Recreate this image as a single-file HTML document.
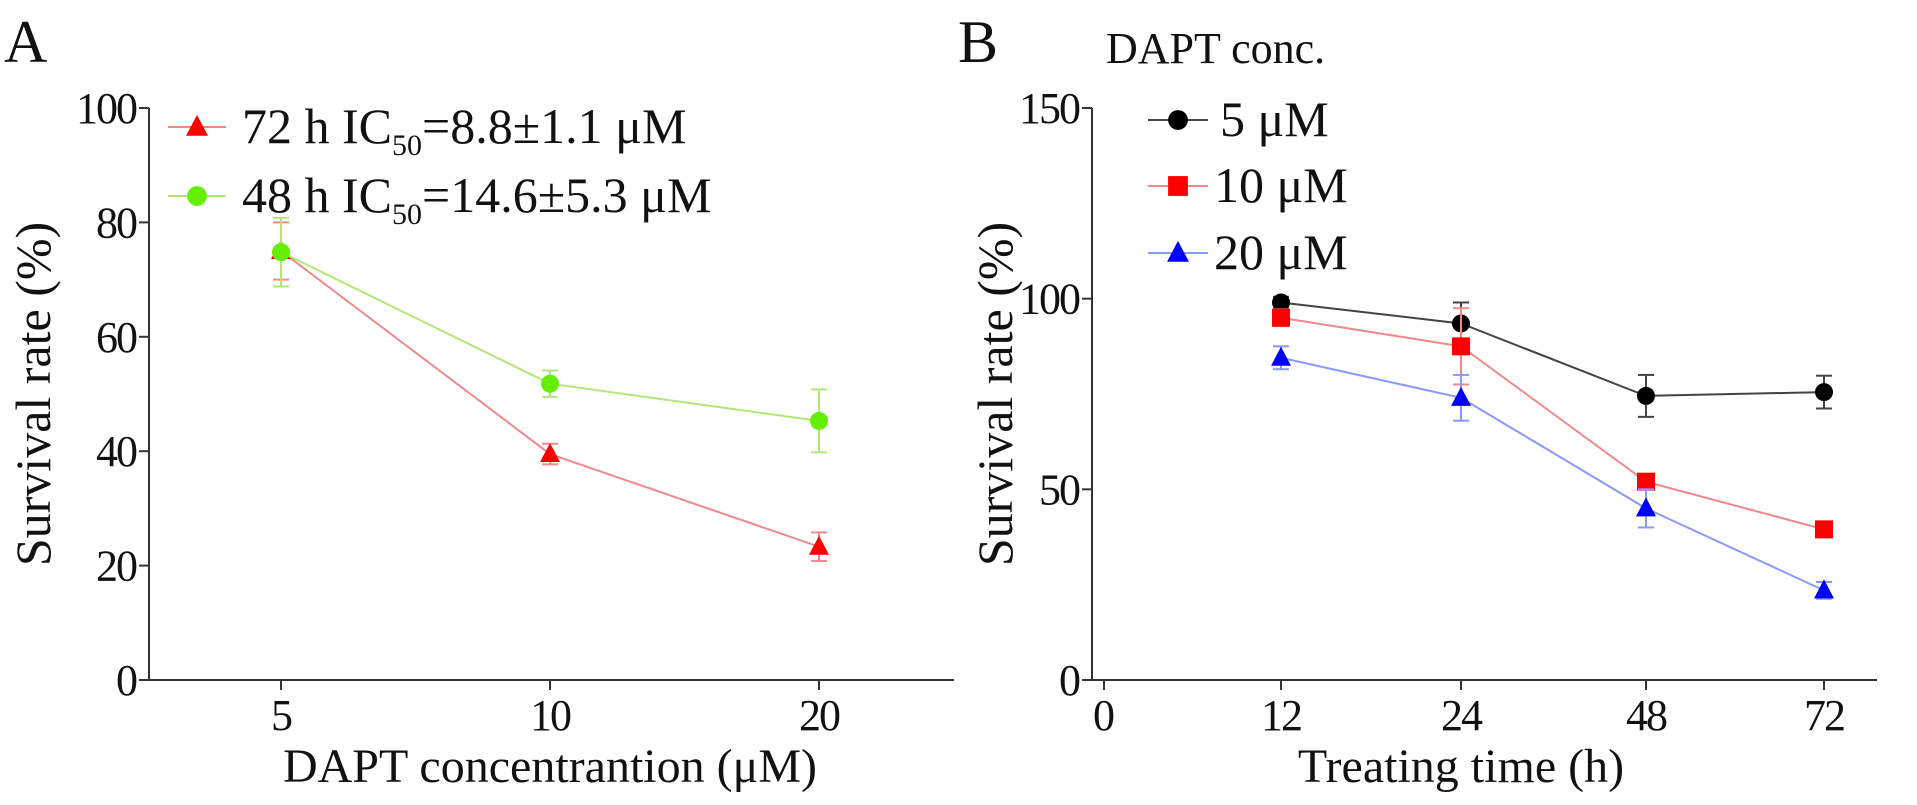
<!DOCTYPE html>
<html><head><meta charset="utf-8"><style>
html,body{margin:0;padding:0;background:#fff;}
svg{display:block;font-family:"Liberation Serif",serif;}
</style></head><body>
<svg id="c" width="1917" height="805" viewBox="0 0 1917 805" xmlns="http://www.w3.org/2000/svg"></svg>
<script>
// Panel A data
const catsA = ['5','10','20'];
const val72 = [75, 39.5, 23.3];
const err72 = [5, 1.8, 2.5];
const val48 = [74.8, 51.8, 45.3];
const err48 = [6, 2.3, 5.5];
const ticksA = [0,20,40,60,80,100];
// Panel B data
const catsB = ['12','24','48','72'];
const val5 = [99, 93.5, 74.5, 75.5];
const err5 = [1.5, 5.5, 5.5, 4.3];
const val10 = [95, 87.5, 52, 39.5];
const err10 = [2.2, 10, 1.2, 1.2];
const val20 = [84.5, 74, 45, 23.5];
const err20 = [3, 6, 5, 2.2];
const ticksB = [0,50,100,150];

const NS='http://www.w3.org/2000/svg';
const svg=document.getElementById('c');
function mk(tag,attrs,parent,text){const e=document.createElementNS(NS,tag);for(const k in attrs)e.setAttribute(k,attrs[k]);if(text!==undefined)e.textContent=text;(parent||svg).appendChild(e);return e;}

const A={x0:149,x1:954,y0:680,y1:108,max:100,pos:[281,550,819]};
const B={x0:1092,x1:1877,y0:680,y1:108,max:150,pos:[1281,1461,1646,1824]};
function yA(v){return A.y0-(v/A.max)*(A.y0-A.y1);}
function yB(v){return B.y0-(v/B.max)*(B.y0-B.y1);}
function xA(i){return A.pos[i];}
function xB(i){return B.pos[i];}

function axes(P,ys,ticks,cats,xs,name,extraZero){
  const g=mk('g',{},svg);
  
  
  mk('line',{x1:P.x0,y1:P.y0,x2:P.x0,y2:P.y1,stroke:'#333','stroke-width':2},g);
  mk('line',{x1:P.x0,y1:P.y0,x2:P.x1,y2:P.y0,stroke:'#333','stroke-width':2},g);
  ticks.forEach(t=>{
    const y=ys(t);
    mk('line',{x1:P.x0-10,y1:y,x2:P.x0,y2:y,stroke:'#333','stroke-width':2},g);
    const tx=mk('text',{x:P.x0-13,y:y+15,'text-anchor':'end','font-size':44,'letter-spacing':-2,fill:'#111'},g,String(t));
    
    
  });
  if(extraZero){
    mk('line',{x1:extraZero,y1:P.y0,x2:extraZero,y2:P.y0+10,stroke:'#333','stroke-width':2},g);
    const tz=mk('text',{x:extraZero,y:P.y0+50,'text-anchor':'middle','font-size':44,fill:'#111'},g,'0');
    
    
  }
  cats.forEach((c,i)=>{
    const x=xs(i);
    mk('line',{x1:x,y1:P.y0,x2:x,y2:P.y0+10,stroke:'#333','stroke-width':2},g);
    const tx=mk('text',{x:x,y:P.y0+50,'text-anchor':'middle','font-size':44,'letter-spacing':-2,fill:'#111'},g,c);
    
    
  });
}
axes(A,yA,ticksA,catsA,xA,'panel-a');
axes(B,yB,ticksB,catsB,xB,'panel-b',1104);

function marker(type,x,y,color,g,s){
  s=s||1;
  if(type==='circle')return mk('circle',{cx:x,cy:y,r:9*s,fill:color},g);
  if(type==='square')return mk('rect',{x:x-9*s,y:y-9*s,width:18*s,height:18*s,fill:color},g);
  return mk('polygon',{points:`${x},${y-11*s} ${x-10*s},${y+8*s} ${x+10*s},${y+8*s}`,fill:color},g);
}
function series(vals,errs,xs,ys,line,mcol,type,name){
  const g=mk('g',{},svg);
  
  
  const pts=vals.map((v,i)=>xs(i)+','+ys(v)).join(' ');
  mk('polyline',{points:pts,fill:'none',stroke:line,'stroke-width':2},g);
  vals.forEach((v,i)=>{
    const x=xs(i),yt=ys(v+errs[i]),yb=ys(v-errs[i]);
    mk('line',{x1:x,y1:yt,x2:x,y2:yb,stroke:line,'stroke-width':2},g);
    mk('line',{x1:x-8,y1:yt,x2:x+8,y2:yt,stroke:line,'stroke-width':2},g);
    mk('line',{x1:x-8,y1:yb,x2:x+8,y2:yb,stroke:line,'stroke-width':2},g);
    const m=marker(type,x,ys(v),mcol,g);
    
    
  });
}
series(val72,err72,xA,yA,'#f08a8a','#ff0000','tri','series-72h');
series(val48,err48,xA,yA,'#b0e878','#66ee00','circle','series-48h');
series(val5,err5,xB,yB,'#444','#000','circle','series-5um');
series(val10,err10,xB,yB,'#f08a8a','#ff0000','square','series-10um');
series(val20,err20,xB,yB,'#8899ff','#0000ff','tri','series-20um');

function legend(x1,x2,y,line,mcol,type,tx,label,name,size){
  const g=mk('g',{},svg);
  
  
  mk('line',{x1:x1,y1:y,x2:x2,y2:y,stroke:line,'stroke-width':2},g);
  marker(type,(x1+x2)/2,y,mcol,g,1.1);
  const t=mk('text',{x:tx,y:y+16,'font-size':size,fill:'#111'},g);
  t.innerHTML=label;
  return g;
}
legend(168,226,127,'#f08a8a','#ff0000','tri',242,'72 h IC<tspan font-size="30" dy="12">50</tspan><tspan dy="-12">=8.8±1.1 μM</tspan>','legend-72h',50);
legend(168,226,196,'#b0e878','#66ee00','circle',242,'48 h IC<tspan font-size="30" dy="12">50</tspan><tspan dy="-12">=14.6±5.3 μM</tspan>','legend-48h',50);
legend(1148,1208,120,'#444','#000','circle',1220,'5 μM','legend-5um',50);
legend(1148,1208,186,'#f08a8a','#ff0000','square',1214,'10 μM','legend-10um',50);
legend(1148,1208,253,'#8899ff','#0000ff','tri',1214,'20 μM','legend-20um',50);

function txt(attrs,s,name){const t=mk('text',attrs,svg,s);return t;}
txt({x:4,y:62,'font-size':60,fill:'#111'},'A','panel-a-label');
txt({x:958,y:62,'font-size':60,fill:'#111'},'B','panel-b-label');
txt({x:1106,y:63,'font-size':44,fill:'#111'},'DAPT conc.','legend-b-title');
txt({x:0,y:0,'font-size':50,fill:'#111','text-anchor':'middle',transform:'translate(50,394) rotate(-90)'},'Survival rate (%)','panel-a-y-axis-title');
txt({x:0,y:0,'font-size':50,fill:'#111','text-anchor':'middle',transform:'translate(1012,394) rotate(-90)'},'Survival rate (%)','panel-b-y-axis-title');
txt({x:550,y:782,'font-size':48,fill:'#111','text-anchor':'middle'},'DAPT concentrantion (μM)','panel-a-x-axis-title');
txt({x:1461,y:782,'font-size':48,fill:'#111','text-anchor':'middle'},'Treating time (h)','panel-b-x-axis-title');
</script>
</body></html>
